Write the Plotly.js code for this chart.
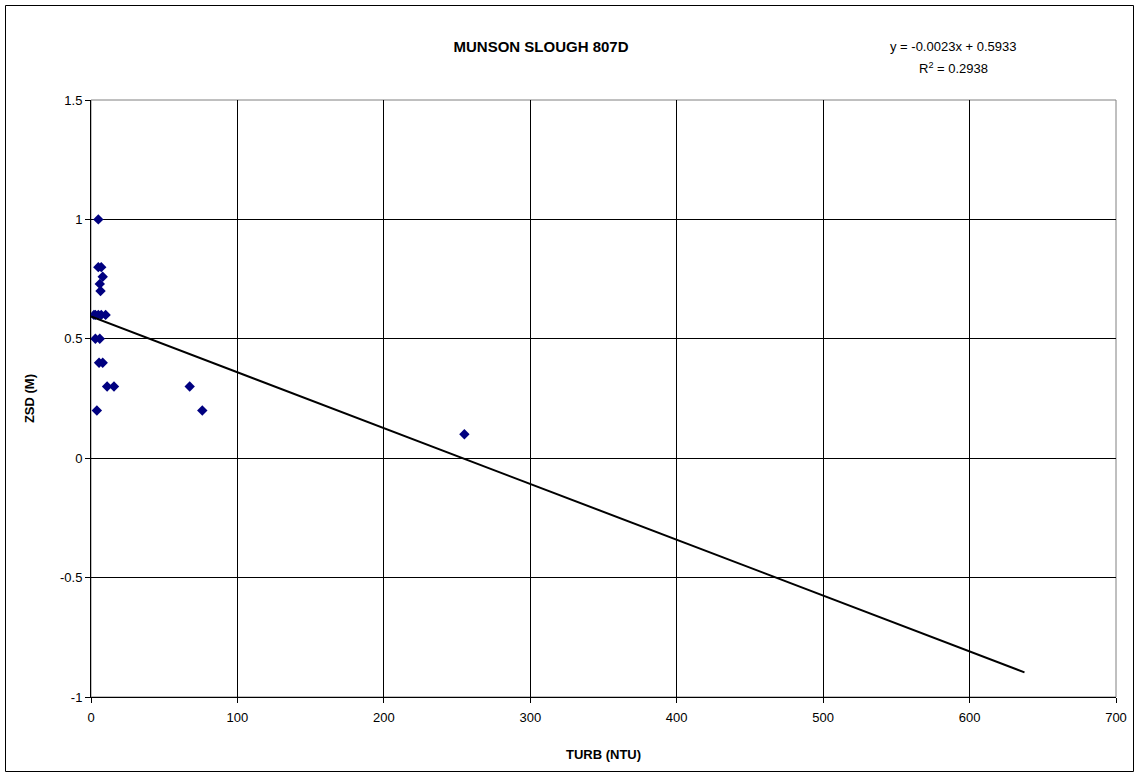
<!DOCTYPE html>
<html>
<head>
<meta charset="utf-8">
<script src="https://cdn.plot.ly/plotly-3.0.1.min.js"></script>
<style>html,body{margin:0;padding:0;background:#fff;}#chart{width:1135px;height:776px;}</style>
</head>
<body>
<div id="chart"></div>
<script>
// Observed data: turbidity (NTU) vs Secchi depth (m)
var turb = [5, 5, 7, 8, 6, 6.5, 2, 3, 5, 7, 10, 3, 6, 5.5, 8, 11, 15.7, 67.4, 4, 76, 255];
var zsd  = [1.0, 0.8, 0.8, 0.76, 0.73, 0.70, 0.6, 0.6, 0.6, 0.6, 0.6, 0.5, 0.5, 0.4, 0.4, 0.3, 0.3, 0.3, 0.2, 0.2, 0.1];

// Linear trendline endpoints (as drawn)
var trendX = [0, 637.5];
var trendY = [0.5933, -0.8967];

var xTicks = [0, 100, 200, 300, 400, 500, 600, 700];
var yTicks = [-1, -0.5, 0, 0.5, 1, 1.5];
var yTickText = ['-1', '-0.5', '0', '0.5', '1', '1.5'];

var titleText = 'MUNSON SLOUGH 807D';
var eqText = 'y = -0.0023x + 0.5933';
var r2Text = 'R<sup>2</sup> = 0.2938';

var font = 'Arial, "Liberation Sans", sans-serif';

var traces = [
  {x: turb, y: zsd, type: 'scatter', mode: 'markers',
   marker: {symbol: 'diamond', size: 8, color: '#000080', line: {width: 0}},
   hoverinfo: 'x+y', showlegend: false},
  {x: trendX, y: trendY, type: 'scatter', mode: 'lines',
   line: {color: '#000000', width: 2}, hoverinfo: 'skip', showlegend: false}
];

var layout = {
  width: 1135, height: 776,
  margin: {l: 91, r: 19, t: 100, b: 79},
  paper_bgcolor: '#ffffff', plot_bgcolor: '#ffffff',
  font: {family: font, size: 13, color: '#000'},
  title: {text: '<b>' + titleText + '</b>', font: {family: font, size: 15, color: '#000'},
          x: 541/1135, xanchor: 'center', y: 1 - 47/776, yanchor: 'middle'},
  xaxis: {range: [0, 700], tickvals: xTicks, ticktext: xTicks.map(String),
          showgrid: true, gridcolor: '#000', gridwidth: 1, zeroline: false,
          showline: true, linecolor: '#000', linewidth: 1,
          ticks: 'outside', ticklen: 5, tickcolor: '#000', ticklabelstandoff: 3,
          tickfont: {family: font, size: 13, color: '#000'},
          title: {text: '<b>TURB (NTU)</b>', font: {family: font, size: 13, color: '#000'}, standoff: 26}},
  yaxis: {range: [-1, 1.5], tickvals: yTicks, ticktext: yTickText,
          showgrid: true, gridcolor: '#000', gridwidth: 1, zeroline: false,
          showline: true, linecolor: '#000', linewidth: 1,
          ticks: 'outside', ticklen: 5, tickcolor: '#000',
          tickfont: {family: font, size: 13, color: '#000'},
          title: {text: '<b>ZSD (M)</b>', font: {family: font, size: 13, color: '#000'}, standoff: 22}},
  shapes: [
    {type: 'rect', xref: 'paper', yref: 'paper', x0: 0, x1: 1, y0: 0, y1: 1,
     line: {color: '#808080', width: 1}, fillcolor: 'rgba(0,0,0,0)', layer: 'below'},
    {type: 'rect', xref: 'paper', yref: 'paper', x0: (5.5-91)/1025, x1: (1133.5-91)/1025,
     y0: (697-771.5)/597, y1: (697-5.5)/597,
     line: {color: '#000', width: 1}, fillcolor: 'rgba(0,0,0,0)'}
  ],
  annotations: [
    {xref: 'paper', yref: 'paper', x: (953-91)/1025, y: (697-46)/597, text: eqText,
     showarrow: false, xanchor: 'center', yanchor: 'middle', font: {family: font, size: 13, color: '#000'}},
    {xref: 'paper', yref: 'paper', x: (953-91)/1025, y: (697-68)/597, text: r2Text,
     showarrow: false, xanchor: 'center', yanchor: 'middle', font: {family: font, size: 13, color: '#000'}}
  ]
};

Plotly.newPlot('chart', traces, layout, {displayModeBar: false, staticPlot: true});
</script>
</body>
</html>
